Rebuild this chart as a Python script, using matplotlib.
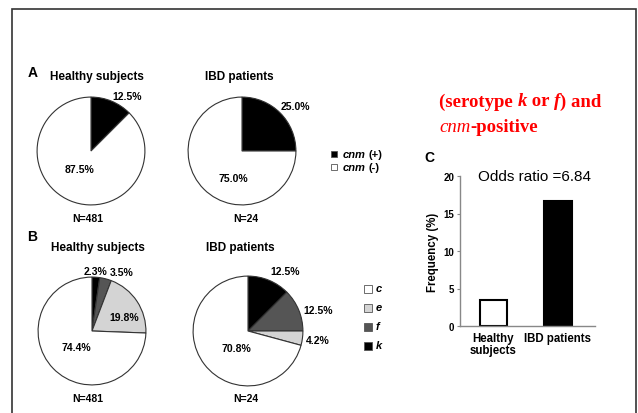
import matplotlib
matplotlib.use("Agg")
import matplotlib.pyplot as plt
from matplotlib.patches import Rectangle

plt.rcParams['font.family'] = ['Liberation Sans', 'DejaVu Sans']

W, H = 638, 414

# Panel A: cnm status
cnm_labels = ["cnm (+)", "cnm (-)"]
cnm_colors = ["#000000", "#ffffff"]
a_healthy = [12.5, 87.5]
a_ibd = [25.0, 75.0]

# Panel B: serotype distribution (clockwise from top: k, f, e, c)
sero_labels = ["k", "f", "e", "c"]
sero_colors = ["#000000", "#555555", "#d4d4d4", "#ffffff"]
b_healthy = [2.3, 3.5, 19.8, 74.4]
b_ibd = [12.5, 12.5, 4.2, 70.8]

group_titles = ["Healthy subjects", "IBD patients"]
group_n = ["N=481", "N=24"]

# Panel C
c_groups = ["Healthy\nsubjects", "IBD patients"]
c_freq = [3.5, 16.7]
c_colors = ["#ffffff", "#000000"]
odds_ratio = 6.84

fig = plt.figure(figsize=(W / 100, H / 100), dpi=100)
fig.canvas.draw()
r = fig.canvas.get_renderer()

def fx(x):
    return x / W

def fy(y):
    return 1 - y / H

def ftext(x, y, s, **kw):
    kw.setdefault("ha", "center")
    kw.setdefault("va", "center")
    return fig.text(fx(x), fy(y), s, **kw)

def after(txt):
    bb = txt.get_window_extent(renderer=r)
    return bb.x1 / W

# border frame
fig.add_artist(Rectangle((fx(12), fy(420)), fx(636) - fx(12), fy(10) - fy(420),
                         transform=fig.transFigure, fill=False, ec="#333333", lw=1.2))

def pie_axes(cx, cy, rad, values, colors):
    ax = fig.add_axes([fx(cx - rad - 1), fy(cy + rad + 1), (2 * rad + 2) / W, (2 * rad + 2) / H])
    ax.pie(values, colors=colors, startangle=90, counterclock=False,
           wedgeprops=dict(edgecolor="#333333", linewidth=0.8))
    ax.set_xlim(-1.02, 1.02)
    ax.set_ylim(-1.02, 1.02)
    ax.axis("off")
    return ax

bold = dict(fontweight="bold")
pct_fs = 7.5
title_fs = 8.5
n_fs = 7.5

# ---- Panel A ----
ftext(33, 73, "A", fontsize=10, **bold)
ftext(97, 77, group_titles[0], fontsize=title_fs, **bold)
ftext(239, 77, group_titles[1], fontsize=title_fs, **bold)
pie_axes(91, 152, 54, a_healthy, cnm_colors)
pie_axes(242, 152, 54, a_ibd, cnm_colors)
ftext(127, 97, f"{a_healthy[0]:.1f}%", fontsize=pct_fs, **bold)
ftext(80, 170, f"{a_healthy[1]:.1f}%", fontsize=pct_fs, **bold)
ftext(295, 107, f"{a_ibd[0]:.1f}%", fontsize=pct_fs, **bold)
ftext(233, 179, f"{a_ibd[1]:.1f}%", fontsize=pct_fs, **bold)
ftext(88, 219, group_n[0], fontsize=n_fs, **bold)
ftext(246, 219, group_n[1], fontsize=n_fs, **bold)

# legend A
for i, (lab, col) in enumerate(zip(cnm_labels, cnm_colors)):
    y = 155 + i * 13
    fig.add_artist(Rectangle((fx(331), fy(y + 3)), 6 / W, 6 / H, transform=fig.transFigure,
                             fc=col, ec="#555555", lw=0.6))
    name, sign = lab.split(" ")
    t = fig.text(fx(343), fy(y), name, fontsize=8, fontweight="bold", fontstyle="italic",
                 ha="left", va="center")
    fig.text(after(t) + 2.5 / W, fy(y), sign, fontsize=8, fontweight="bold",
             ha="left", va="center")

# ---- Panel B ----
ftext(32, 237, "B", fontsize=10, **bold)
ftext(98, 248, group_titles[0], fontsize=title_fs, **bold)
ftext(240, 248, group_titles[1], fontsize=title_fs, **bold)
pie_axes(92, 332, 54, b_healthy, sero_colors)
pie_axes(248, 332, 55, b_ibd, sero_colors)
ftext(95, 272, f"{b_healthy[0]:.1f}%", fontsize=pct_fs, **bold)
ftext(122, 273, f"{b_healthy[1]:.1f}%", fontsize=pct_fs, **bold)
ftext(124, 318, f"{b_healthy[2]:.1f}%", fontsize=pct_fs, **bold)
ftext(76, 348, f"{b_healthy[3]:.1f}%", fontsize=pct_fs, **bold)
ftext(285, 272, f"{b_ibd[0]:.1f}%", fontsize=pct_fs, **bold)
ftext(318, 311, f"{b_ibd[1]:.1f}%", fontsize=pct_fs, **bold)
ftext(318, 341, f"{b_ibd[2]:.1f}%", fontsize=pct_fs, **bold)
ftext(236, 349, f"{b_ibd[3]:.1f}%", fontsize=pct_fs, **bold)
ftext(88, 399, group_n[0], fontsize=n_fs, **bold)
ftext(246, 399, group_n[1], fontsize=n_fs, **bold)

# legend B (order c, e, f, k)
for i, idx in enumerate([3, 2, 1, 0]):
    y = 290 + i * 19
    fig.add_artist(Rectangle((fx(364), fy(y + 4)), 8 / W, 8 / H, transform=fig.transFigure,
                             fc=sero_colors[idx], ec="#555555", lw=0.6))
    fig.text(fx(376), fy(y - 1), sero_labels[idx], fontsize=8, fontweight="bold",
             fontstyle="italic", ha="left", va="center")

# ---- Red text ----
red = dict(fontsize=13.5, color="#ff0000", family="Liberation Serif", va="center", ha="left")
x = fx(439)
for seg, style in [("(serotype ", "normal"), ("k", "italic"), (" or ", "normal"),
                   ("f", "italic"), (") and", "normal")]:
    t = fig.text(x, fy(102), seg, fontweight="bold", fontstyle=style, **red)
    x = after(t)
x = fx(439)
for seg, style, wt in [("cnm", "italic", "normal"), ("-positive", "normal", "bold")]:
    t = fig.text(x, fy(127), seg, fontweight=wt, fontstyle=style, **red)
    x = after(t)

# ---- Panel C ----
ftext(429, 158, "C", fontsize=10, **bold)
axc = fig.add_axes([fx(460), fy(327), fx(595) - fx(460), fy(177) - fy(327)])
xpos = [0, 1]
axc.bar(xpos, c_freq, width=0.43, color=c_colors, edgecolor="black", linewidth=1.5)
axc.set_xlim(-0.52, 1.58)
axc.set_ylim(0, 20)
axc.set_yticks([0, 5, 10, 15, 20])
axc.set_xticks(xpos)
axc.set_xticklabels(c_groups, fontsize=8.3, fontweight="bold", linespacing=1.0)
for lab in axc.get_yticklabels():
    lab.set_fontsize(7)
    lab.set_fontweight("bold")
axc.tick_params(axis="y", length=2, width=0.8, color="#888888", pad=2)
axc.tick_params(axis="x", length=0, pad=4)
for s in ["top", "right"]:
    axc.spines[s].set_visible(False)
for s in ["left", "bottom"]:
    axc.spines[s].set_color("#888888")
    axc.spines[s].set_linewidth(1.0)
axc.set_ylabel("Frequency (%)", fontsize=8.3, fontweight="bold", labelpad=3)
axc.text(0.55, 1.0, f"Odds ratio ={odds_ratio:.2f}", transform=axc.transAxes,
         fontsize=11, ha="center", va="center")

fig.savefig("out.png", dpi=100)
